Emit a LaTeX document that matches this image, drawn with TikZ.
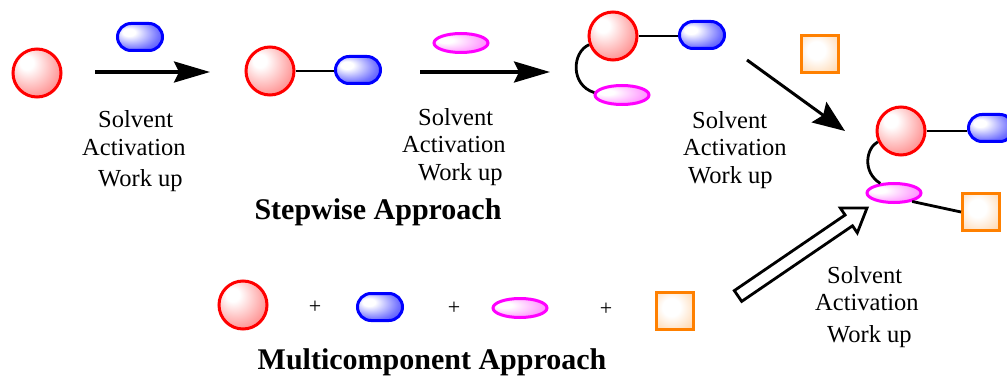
\documentclass[tikz,border=0pt]{standalone}
\usepackage{fontspec}
\setmainfont{Liberation Serif}
\usetikzlibrary{arrows.meta,shapes.geometric}
\definecolor{myorange}{RGB}{255,128,0}
\definecolor{mymag}{RGB}{255,0,255}
\pgfdeclareradialshading{redsh}{\pgfpoint{-12bp}{12bp}}{color(0bp)=(white);color(7bp)=(white);color(30bp)=(red!40);color(50bp)=(red!72);color(60bp)=(red!72)}
\pgfdeclareradialshading{bluesh}{\pgfpoint{-14bp}{10bp}}{color(0bp)=(white);color(7bp)=(white);color(28bp)=(blue!55);color(50bp)=(blue!95);color(60bp)=(blue!95)}
\pgfdeclareradialshading{pinksh}{\pgfpoint{-16bp}{8bp}}{color(0bp)=(white);color(7bp)=(white);color(30bp)=(mymag!40);color(50bp)=(mymag!70);color(60bp)=(mymag!70)}
\pgfdeclareradialshading{orangesh}{\pgfpoint{-6bp}{6bp}}{color(0bp)=(white);color(12bp)=(white);color(35bp)=(myorange!30);color(50bp)=(myorange!65);color(70bp)=(myorange!75)}
\tikzset{
  ball/.style={circle,draw=red,line width=3pt,minimum size=48pt,inner sep=0pt,shading=redsh},
  capsule/.style={rectangle,rounded corners=13.5pt,draw=blue,line width=3pt,minimum width=45pt,minimum height=27pt,inner sep=0pt,shading=bluesh},
  pill/.style={ellipse,draw=mymag,line width=3pt,minimum width=54pt,minimum height=19pt,inner sep=0pt,shading=pinksh},
  cube/.style={rectangle,draw=myorange,line width=3pt,minimum size=37pt,inner sep=0pt,shading=orangesh},
  link/.style={line width=2.8pt},
  react/.style={line width=3.2pt,-{Stealth[length=36pt,width=21pt,inset=5pt]}},
  lbl/.style={anchor=base west,inner sep=0pt,font=\fontsize{24.5}{29}\selectfont},
  ttl/.style={anchor=base,inner sep=0pt,font=\fontsize{30}{36}\selectfont\bfseries},
  plus/.style={inner sep=0pt,font=\fontsize{22}{26}\selectfont}
}
\begin{document}
\begin{tikzpicture}[x=1pt,y=-1pt]
\useasboundingbox[fill=white] (0,0) rectangle (1007,377);
% stage 1
\node[ball] (r1) at (37,73) {};
\node[capsule] (b1) at (140,37) {};
\coordinate (a1s) at (95,72);
\coordinate (a1e) at (210,72);
\draw[react] (a1s) -- (a1e);
\node[lbl] (t1a) at (98,128) {Solvent};
\node[lbl] (t1b) at (82,156) {Activation};
\node[lbl] (t1c) at (98,186) {Work up};
% stage 2
\node[ball] (r2) at (270,71) {};
\node[capsule] (b2) at (358,70) {};
\draw[link] (r2.east) -- (r2.east -| b2.west);
\node[pill] (p1) at (461,43) {};
\coordinate (a2s) at (420,72);
\coordinate (a2e) at (550,72);
\draw[react] (a2s) -- (a2e);
\node[lbl] (t2a) at (418,126) {Solvent};
\node[lbl] (t2b) at (402,153) {Activation};
\node[lbl] (t2c) at (418,181) {Work up};
% stage 3
\node[ball] (r3) at (613,36) {};
\node[capsule] (b3) at (702,35) {};
\node[pill] (p3) at (622,95) {};
\draw[link] (r3.east) -- (r3.east -| b3.west);
\draw[link] (r3.200) .. controls (572,52) and (570,85) .. (p3.175);
\node[cube] (o1) at (820,54) {};
\coordinate (a3s) at (747,60);
\coordinate (a3e) at (845,131);
\draw[line width=3pt,-{Stealth[length=32pt,width=25pt,inset=5pt]}] (a3s) -- (a3e);
\node[lbl] (t3a) at (692,129) {Solvent};
\node[lbl] (t3b) at (683,156) {Activation};
\node[lbl] (t3c) at (688,183) {Work up};
% product
\node[ball] (r4) at (901,131) {};
\node[capsule] (b4) at (991,128) {};
\node[pill] (p4) at (894,193) {};
\node[cube] (o4) at (981,212) {};
\draw[link] (r4.east) -- (r4.east -| b4.west);
\draw[link] (r4.205) .. controls (866,148) and (862,172) .. (p4.145);
\draw[link] (p4.-25) -- (o4.west);
\node[ttl] (step) at (378,219) {Stepwise Approach};
% multicomponent
\node[ball] (r5) at (243,305) {};
\node[plus] (q1) at (315,307) {+};
\node[capsule] (b5) at (380,307) {};
\node[plus] (q2) at (454,308) {+};
\node[pill] (p5) at (520,308) {};
\node[plus] (q3) at (606,309) {+};
\node[cube] (o5) at (675,311) {};
\draw[line width=2.8pt,line join=miter,fill=white]
  (734.3,290.6) -- (845.1,215.0) -- (840.3,208.0) -- (867,208) -- (857.3,232.8) -- (852.5,225.8) -- (741.7,301.4) -- cycle;
\node[lbl] (t4a) at (827,283) {Solvent};
\node[lbl] (t4b) at (815,310) {Activation};
\node[lbl] (t4c) at (827,342) {Work up};
\node[ttl] (multi) at (432,369) {Multicomponent Approach};
\end{tikzpicture}
\end{document}
